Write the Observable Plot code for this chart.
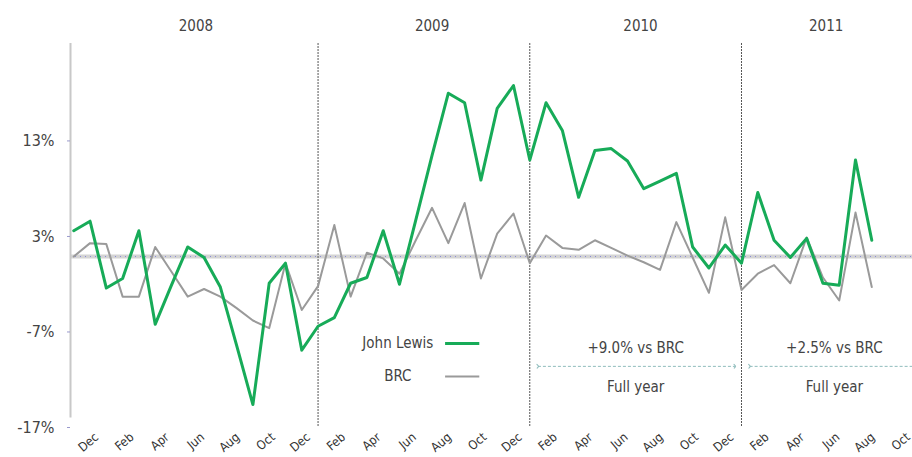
<!DOCTYPE html>
<html><head><meta charset="utf-8">
<script src="https://cdn.jsdelivr.net/npm/d3@7"></script>
<script src="https://cdn.jsdelivr.net/npm/@observablehq/plot@0.6"></script>
<style>body{margin:0;background:#fff}</style>
</head><body><div id="chart"></div>
<script>
// Four-weekly trading periods (index 0 = first period shown, late 2007)
const johnLewis = [3.6, 4.6, -2.4, -1.4, 3.6, -6.2, -2.1, 1.9, 0.8, -2.3,
  -8.4, -14.6, -1.9, 0.2, -8.9, -6.4, -5.5, -1.9, -1.3, 3.6,
  -2.0, 4.7, 11.5, 18.0, 17.0, 8.9, 16.4, 18.8, 11.0, 17.0,
  14.1, 7.1, 12.0, 12.2, 10.9, 8.0, 8.8, 9.6, 1.9, -0.3,
  2.1, 0.2, 7.6, 2.6, 0.8, 2.8, -1.9, -2.1, 11.0, 2.6];
const brc = [0.9, 2.3, 2.2, -3.3, -3.3, 1.9, -0.7, -3.3, -2.5, -3.3,
  -4.5, -5.8, -6.6, 0.2, -4.7, -2.2, 4.2, -3.3, 1.3, 0.7,
  -0.9, 2.6, 6.0, 2.3, 6.5, -1.4, 3.3, 5.4, 0.2, 3.1,
  1.8, 1.6, 2.6, 1.8, 1.0, 0.3, -0.5, 4.5, 0.8, -2.9,
  5.0, -2.6, -0.9, 0.0, -1.9, 2.9, -1.3, -3.7, 5.5, -2.3];
const monthLabels = ["Dec","Feb","Apr","Jun","Aug","Oct",
  "Dec","Feb","Apr","Jun","Aug","Oct",
  "Dec","Feb","Apr","Jun","Aug","Oct",
  "Dec","Feb","Apr","Jun","Aug","Oct"];
const years = ["2008", "2009", "2010", "2011"];
const yearCentres = [7.5, 22, 34.8, 46.2];
const yearBreaks = [15, 28, 41];
const yTicks = [13, 3, -7, -17];
const baseline = 0.9;
const seriesNames = ["John Lewis", "BRC"];
const gaps = ["+9.0% vs BRC", "+2.5% vs BRC"];
const gapNote = "Full year";

const data = johnLewis.map((v, i) => ({period: i, jl: v, brc: brc[i]}));
const font = "'Liberation Sans Narrow','DejaVu Sans Condensed',sans-serif";
const green = "#17ab58";
const grey = "#9a9a9a";

const legend = [
  {name: seriesNames[0], x: 19.9, y: -8.2, x1: 22.8, x2: 24.9, stroke: green, w: 3},
  {name: seriesNames[1], x: 19.9, y: -11.66, x1: 22.8, x2: 24.9, stroke: grey, w: 2}
];
const notes = [
  {label: gaps[0], x: 34.5, a1: 28.5, a2: 40.6},
  {label: gaps[1], x: 46.7, a1: 41.5, a2: 52.5}
];

const chart = Plot.plot({
  width: 912, height: 457,
  marginLeft: 70, marginRight: 0, marginTop: 43, marginBottom: 30,
  style: {fontFamily: font, color: "#333", background: "#fff", overflow: "visible"},
  x: {domain: [-0.2, 51.5], axis: null},
  y: {domain: [-17, 23.2], axis: null},
  marks: [
    Plot.ruleY([baseline], {stroke: "#d4d4d4", strokeWidth: 4}),
    Plot.ruleY([baseline], {stroke: "#8a8ad8", strokeWidth: 1, strokeDasharray: "1,4"}),
    Plot.ruleX([-0.2], {y1: 23.2, y2: -16, stroke: "#c8c8c8", strokeWidth: 2}),
    Plot.ruleX(yearBreaks, {y1: 23.2, y2: -17, stroke: "#555", strokeDasharray: "2,1"}),
    Plot.axisY({ticks: yTicks, tickFormat: d => d + "%", tickSize: 3, tickPadding: 13, fontSize: 16, stroke: "#99c", fill: "#444"}),
    Plot.text(monthLabels, {x: (d, k) => 2 + k * 13 / 6, frameAnchor: "bottom", dy: 11, dx: -7,
      text: d => d, rotate: -40, textAnchor: "end", fontSize: 12.5, fill: "#333"}),
    Plot.text(years, {x: (d, k) => yearCentres[k], frameAnchor: "top", dy: -23, text: d => d, fontSize: 15, fill: "#444"}),
    Plot.line(data, {x: "period", y: "brc", stroke: grey, strokeWidth: 2}),
    Plot.line(data, {x: "period", y: "jl", stroke: green, strokeWidth: 3}),
    Plot.text(legend, {x: "x", y: "y", text: "name", fontSize: 15, fill: "#444"}),
    Plot.link(legend, {x1: "x1", x2: "x2", y1: "y", y2: "y", stroke: "stroke", strokeWidth: "w"}),
    Plot.text(notes, {x: "x", y: -8.73, text: "label", fontSize: 15, fill: "#444"}),
    Plot.text(notes, {x: "x", y: -12.8, text: () => gapNote, fontSize: 15, fill: "#444"}),
    Plot.link(notes, {x1: "a1", x2: "a2", y1: -10.6, y2: -10.6, stroke: "#8fbcbc", strokeWidth: 1,
      strokeDasharray: "3,2", markerStart: "arrow", markerEnd: "arrow"})
  ]
});
document.getElementById("chart").append(chart);
</script>
</body></html>
